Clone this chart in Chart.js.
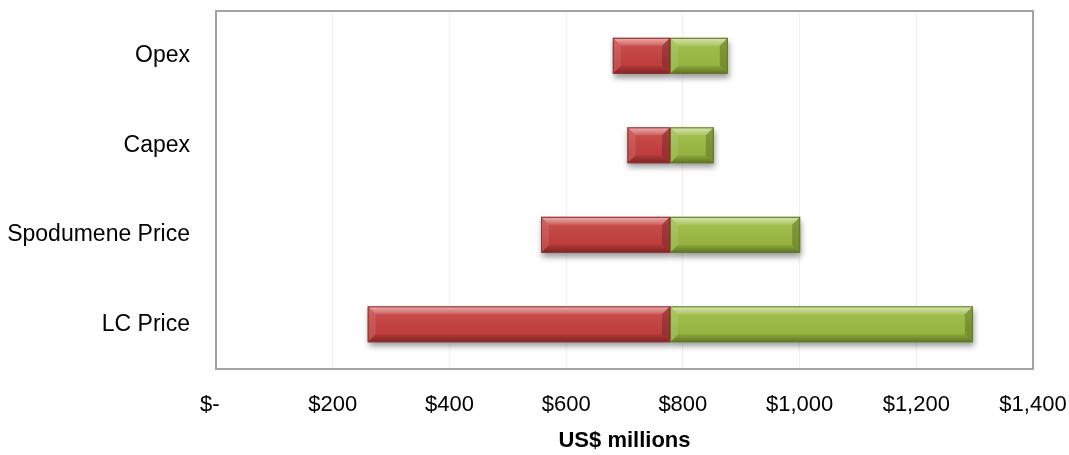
<!DOCTYPE html>
<html lang="en">
<head>
<meta charset="UTF-8">
<title>NPV Sensitivity</title>
<script src="https://cdn.jsdelivr.net/npm/chart.js"></script>
<style>
  body { margin: 0; background: #ffffff; }
  #wrap { width: 1069px; height: 455px; }
</style>
</head>
<body>
<div id="wrap"><canvas id="tornadoChart"></canvas></div>
<script>
const categories = ['Opex', 'Capex', 'Spodumene Price', 'LC Price'];
const baseCase = 778;
const lowCase = [680, 705, 557, 260];
const highCase = [877, 853, 1001, 1297];
const xTickLabels = ['$-  ', '$200', '$400', '$600', '$800', '$1,000', '$1,200', '$1,400'];

const FONT = "'Liberation Sans', Arial, sans-serif";

// shadow under bars, plot border, and bevel on top of bars
const bevelPlugin = {
  id: 'bevel',
  beforeDatasetsDraw(chart) {
    const ctx = chart.ctx, a = chart.chartArea;
    ctx.save();
    ctx.strokeStyle = '#a3a3a3';
    ctx.lineWidth = 2;
    ctx.strokeRect(a.left, a.top, a.right - a.left, a.bottom - a.top);
    ctx.shadowColor = 'rgba(0,0,0,0.4)';
    ctx.shadowBlur = 6;
    ctx.shadowOffsetX = 1;
    ctx.shadowOffsetY = 4;
    ctx.fillStyle = '#999';
    chart.data.datasets.forEach((ds, di) => {
      chart.getDatasetMeta(di).data.forEach(bar => {
        const p = bar.getProps(['x', 'y', 'base', 'height'], true);
        ctx.fillRect(Math.min(p.x, p.base), p.y - p.height / 2, Math.abs(p.x - p.base), p.height);
      });
    });
    ctx.restore();
  },
  afterDatasetsDraw(chart) {
    const ctx = chart.ctx;
    const poly = (pts, fill) => {
      ctx.beginPath();
      ctx.moveTo(pts[0][0], pts[0][1]);
      pts.slice(1).forEach(q => ctx.lineTo(q[0], q[1]));
      ctx.closePath();
      ctx.fillStyle = fill;
      ctx.fill();
    };
    const vGrad = (y0, y1, c0, c1) => {
      const g = ctx.createLinearGradient(0, y0, 0, y1);
      g.addColorStop(0, c0);
      g.addColorStop(1, c1);
      return g;
    };
    ctx.save();
    chart.data.datasets.forEach((ds, di) => {
      chart.getDatasetMeta(di).data.forEach(bar => {
        const p = bar.getProps(['x', 'y', 'base', 'height'], true);
        const L = Math.min(p.x, p.base), R = Math.max(p.x, p.base);
        const T = p.y - p.height / 2, B = p.y + p.height / 2;
        const d = Math.min(8, (R - L) / 2, p.height / 2);
        // soft shading of the face
        ctx.fillStyle = vGrad(T, B, 'rgba(255,255,255,0.12)', 'rgba(0,0,0,0.06)');
        ctx.fillRect(L, T, R - L, B - T);
        poly([[L, T], [R, T], [R - d, T + d], [L + d, T + d]], vGrad(T, T + d, 'rgba(255,255,255,0.55)', 'rgba(255,255,255,0.10)'));
        poly([[L, B], [R, B], [R - d, B - d], [L + d, B - d]], vGrad(B - d, B, 'rgba(0,0,0,0.06)', 'rgba(0,0,0,0.35)'));
        poly([[L, T], [L + d, T + d], [L + d, B - d], [L, B]], 'rgba(255,255,255,0.10)');
        poly([[R, T], [R - d, T + d], [R - d, B - d], [R, B]], 'rgba(0,0,0,0.20)');
        ctx.strokeStyle = ds.edgeColor;
        ctx.lineWidth = 1;
        ctx.strokeRect(L + 0.5, T + 0.5, R - L - 1, B - T - 1);
      });
    });
    ctx.restore();
  }
};

const ctx = document.getElementById('tornadoChart').getContext('2d');
new Chart(ctx, {
  type: 'bar',
  data: {
    labels: categories,
    datasets: [
      {
        label: 'Low',
        data: categories.map((c, i) => [lowCase[i], baseCase]),
        backgroundColor: '#c83e3c',
        edgeColor: '#93302e',
        borderWidth: 0
      },
      {
        label: 'High',
        data: categories.map((c, i) => [baseCase, highCase[i]]),
        backgroundColor: '#9cbd3f',
        edgeColor: '#5f7825',
        borderWidth: 0
      }
    ]
  },
  options: {
    indexAxis: 'y',
    responsive: true,
    maintainAspectRatio: false,
    animation: false,
    layout: { padding: { left: 0, top: 11, right: 36, bottom: 0 } },
    datasets: {
      bar: { grouped: false, categoryPercentage: 1, barPercentage: 0.4 }
    },
    scales: {
      x: {
        min: 0,
        max: 1400,
        grid: { color: '#efefef', drawTicks: false },
        border: { display: false },
        ticks: {
          stepSize: 200,
          padding: 23,
          color: '#000',
          font: { family: FONT, size: 22 },
          callback: (v) => xTickLabels[Math.round(v / 200)]
        },
        title: {
          display: true,
          text: 'US$ millions',
          color: '#000',
          font: { family: FONT, size: 22, weight: 'bold' },
          padding: { top: 0, bottom: 1 }
        },
        afterFit(scale) {
          scale.height = 86;
          scale.paddingLeft = 0;
          scale.paddingRight = 0;
        }
      },
      y: {
        grid: { display: false, drawTicks: false },
        border: { display: false },
        ticks: {
          padding: 26,
          color: '#000',
          font: { family: FONT, size: 23 }
        },
        afterFit(scale) {
          scale.width = 216;
          scale.paddingTop = 0;
          scale.paddingBottom = 0;
        }
      }
    },
    plugins: {
      legend: { display: false },
      tooltip: { enabled: true }
    }
  },
  plugins: [bevelPlugin]
});
</script>
</body>
</html>
